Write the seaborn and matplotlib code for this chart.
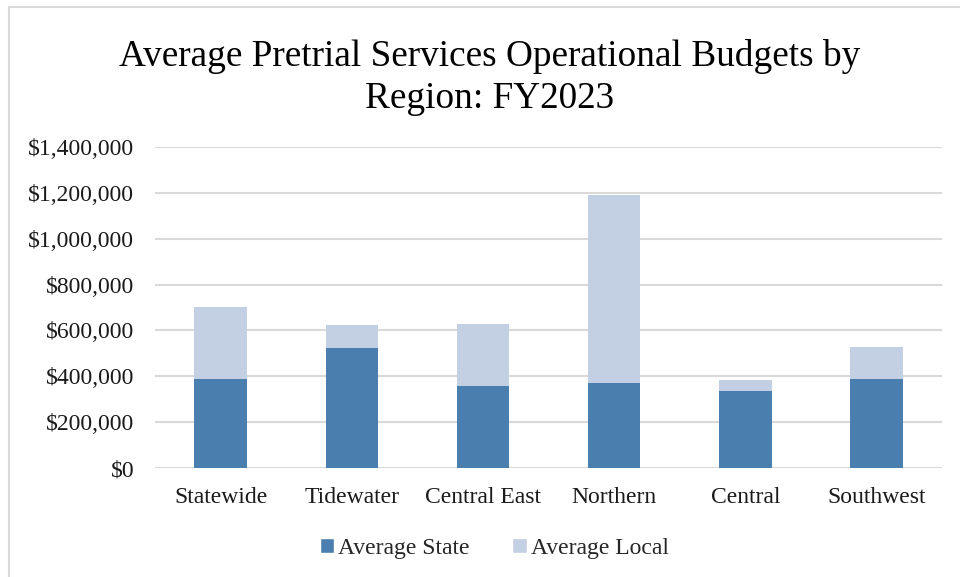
import matplotlib
matplotlib.use("Agg")
import matplotlib.pyplot as plt
from matplotlib.patches import Patch
from matplotlib.lines import Line2D
import matplotlib.ticker as mticker
import seaborn as sns
import pandas as pd

regions = ['Statewide', 'Tidewater', 'Central East', 'Northern', 'Central', 'Southwest']
avg_state = [390000, 524000, 358000, 371000, 338000, 390000]
avg_local = [312000, 101000, 271000, 819000, 45000, 136000]

state_color = '#4a7eae'
local_color = '#c3cfe2'

sns.set_theme(style="white")
plt.rcParams['font.family'] = ['Liberation Serif', 'DejaVu Serif']

df = pd.DataFrame({'region': regions, 'state': avg_state, 'local': avg_local})
df['total'] = df['state'] + df['local']

fig = plt.figure(figsize=(9.6, 5.77), dpi=100)
ax = fig.add_axes([0.1615, 0.1889, 0.8198, 0.5563])

sns.barplot(data=df, x='region', y='total', color=local_color, width=0.4,
            saturation=1, linewidth=0, ax=ax, zorder=3)
sns.barplot(data=df, x='region', y='state', color=state_color, width=0.4,
            saturation=1, linewidth=0, ax=ax, zorder=4)

ax.set_ylim(0, 1400000)
ax.set_xlim(-0.5, 5.5)
ax.yaxis.set_major_locator(mticker.MultipleLocator(200000))
ax.yaxis.set_major_formatter(mticker.FuncFormatter(lambda v, p: f"${v:,.0f}"))
ax.grid(axis='y', color='#d9d9d9', linewidth=1.5, zorder=0)
ax.set_axisbelow(True)
for s in ax.spines.values():
    s.set_visible(False)
ax.tick_params(axis='y', length=0, pad=15, labelsize=17, colors='#1a1a1a')
ax.tick_params(axis='x', length=0, pad=14, labelsize=17, colors='#1a1a1a')
ax.set_xlabel('')
ax.set_ylabel('')

fig.text(0.51, 0.866, 'Average Pretrial Services Operational Budgets by\nRegion: FY2023',
         ha='center', va='center', fontsize=26.8, linespacing=1.3, color='black')

handles = [Patch(facecolor=state_color, label='Average State'),
           Patch(facecolor=local_color, label='Average Local')]
fig.legend(handles=handles, loc='center', bbox_to_anchor=(0.515, 0.049), ncol=2,
           frameon=False, fontsize=17, handlelength=0.6, handleheight=0.6,
           handletextpad=0.2, columnspacing=1.8)

# chart border
fig.add_artist(Line2D([9 / 960, 1], [1 - 7 / 577, 1 - 7 / 577], color='#d9d9d9', linewidth=1.5))
fig.add_artist(Line2D([9 / 960, 9 / 960], [0, 1 - 7 / 577], color='#d9d9d9', linewidth=1.5))

fig.savefig('out.png', dpi=100)
